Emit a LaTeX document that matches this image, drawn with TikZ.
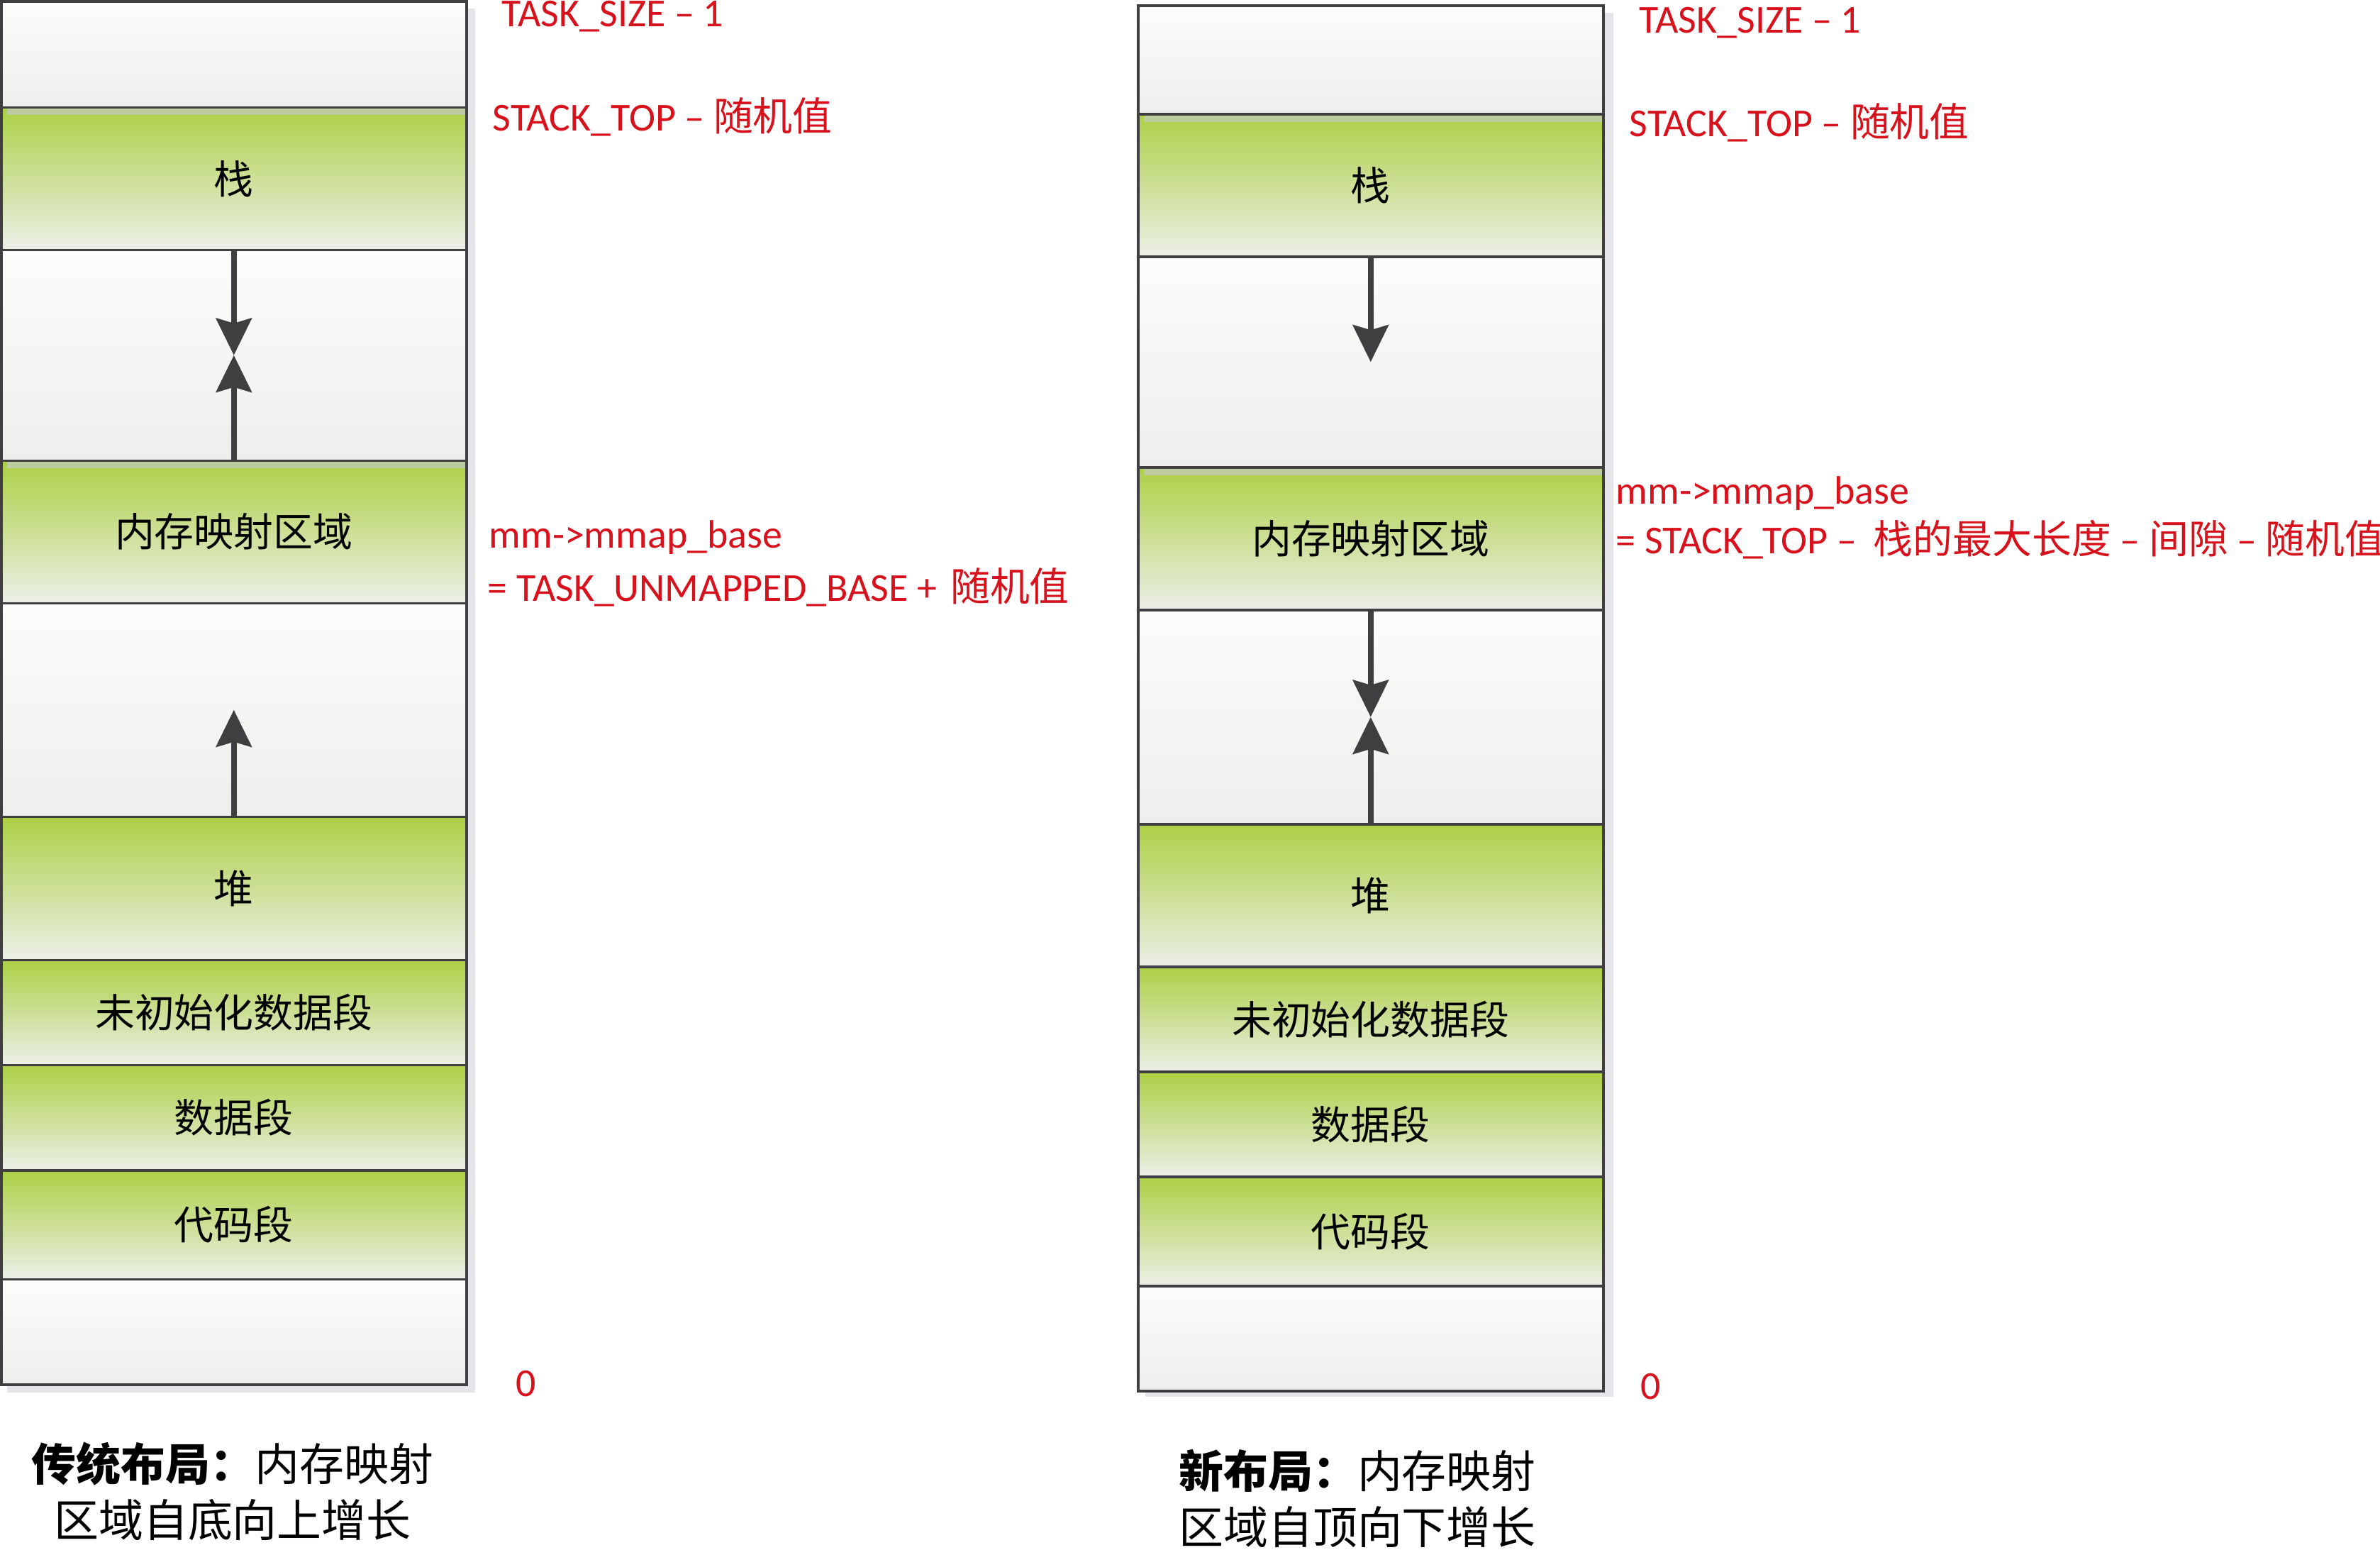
\documentclass[tikz,border=0pt]{standalone}
\usepackage{fontspec}
\setmainfont{Carlito}
\newfontfamily\cjk{Noto Sans CJK SC}
\usetikzlibrary{matrix,arrows.meta}
\definecolor{boxline}{RGB}{64,62,64}
\definecolor{gaptop}{RGB}{252,252,251}
\definecolor{gapbottom}{RGB}{238,238,237}
\definecolor{greentop}{RGB}{172,208,68}
\definecolor{greenbottom}{RGB}{236,239,232}
\definecolor{bandgrey}{RGB}{190,203,160}
\definecolor{boxshadow}{RGB}{229,228,232}
\definecolor{addrred}{RGB}{215,18,28}
\tikzset{
  seg/.style={draw=boxline, line width=1pt, minimum width=6.56cm, inner sep=0pt, outer sep=0pt,
    font=\cjk\fontsize{15.9pt}{19pt}\selectfont},
  gapbox/.style={seg, top color=gaptop, bottom color=gapbottom},
  greenbox/.style={seg, top color=greentop, bottom color=greenbottom},
  layout/.style={matrix of nodes, nodes in empty cells, row sep=-1pt, inner sep=0pt, outer sep=0pt, anchor=north west},
  arr/.style={draw=boxline, line width=2.3pt, -{Stealth[length=0.52cm, width=0.5cm, inset=0.07cm]}},
  addr/.style={text=addrred, anchor=base west, inner sep=0pt, font=\fontsize{15.9pt}{19pt}\selectfont},
  caption/.style={align=center, inner sep=0pt, font=\cjk\fontsize{17.9pt}{22.5pt}\selectfont}
}
\begin{document}
\begin{tikzpicture}[x=1cm,y=-1cm]
  \useasboundingbox (0,0) rectangle (33.56,21.84);
  \fill[boxshadow] (0.10,0.12) rectangle (6.70,19.63);
  \fill[boxshadow] (16.15,0.18) rectangle (22.75,19.69);

  \matrix (L) [layout] at (0,0)
  {
    |[gapbox, minimum height=1.495cm]| \\
    |[greenbox, minimum height=2.01cm]| 栈 \\
    |[gapbox, minimum height=2.97cm]| \\
    |[greenbox, minimum height=2.01cm]| 内存映射区域 \\
    |[gapbox, minimum height=3.01cm]| \\
    |[greenbox, minimum height=2.02cm]| 堆 \\
    |[greenbox, minimum height=1.48cm]| 未初始化数据段 \\
    |[greenbox, minimum height=1.485cm]| 数据段 \\
    |[greenbox, minimum height=1.535cm]| 代码段 \\
    |[gapbox, minimum height=1.485cm]| \\
  };
  \matrix (R) [layout] at (16.03,0.06)
  {
    |[gapbox, minimum height=1.53cm]| \\
    |[greenbox, minimum height=2.01cm]| 栈 \\
    |[gapbox, minimum height=2.97cm]| \\
    |[greenbox, minimum height=2.01cm]| 内存映射区域 \\
    |[gapbox, minimum height=3.02cm]| \\
    |[greenbox, minimum height=2.01cm]| 堆 \\
    |[greenbox, minimum height=1.48cm]| 未初始化数据段 \\
    |[greenbox, minimum height=1.48cm]| 数据段 \\
    |[greenbox, minimum height=1.54cm]| 代码段 \\
    |[gapbox, minimum height=1.48cm]| \\
  };

  \foreach \col in {L,R}
    \foreach \row in {2,4}
      \fill[bandgrey] ([shift={(0.08,0.02)}]\col-\row-1.north west) rectangle ([shift={(-0.02,0.11)}]\col-\row-1.north east);

  \path
    (L-2-1.south) edge[arr] (L-3-1.center)
    (L-4-1.north) edge[arr] (L-3-1.center)
    (L-6-1.north) edge[arr] (L-5-1.center)
    (R-2-1.south) edge[arr] (R-3-1.center)
    (R-4-1.south) edge[arr] (R-5-1.center)
    (R-6-1.north) edge[arr] (R-5-1.center);

  \node[addr] (sizeL) at (7.07,0.37) {TASK\_SIZE – 1};
  \node[addr] (topL) at (6.94,1.84) {STACK\_TOP – {\cjk 随机值}};
  \node[addr] (baseL) at (6.89,7.72) {mm->mmap\_base};
  \node[addr] (eqL) at (6.87,8.47) {= TASK\_UNMAPPED\_BASE + \hspace{0.12em}{\cjk 随机值}};
  \node[addr] (zeroL) at (7.27,19.68) {0};

  \node[addr] (sizeR) at (23.11,0.46) {TASK\_SIZE – 1};
  \node[addr] (topR) at (22.97,1.92) {STACK\_TOP – {\cjk 随机值}};
  \node[addr] (baseR) at (22.78,7.10) {mm->mmap\_base};
  \node[addr] (eqR) at (22.78,7.80) {= STACK\_TOP – \hspace{0.2em}{\cjk 栈的最大长度} – {\cjk 间隙} – {\cjk 随机值}};
  \node[addr] (zeroR) at (23.13,19.72) {0};

  \node[caption] (capL) at (3.28,21.02) {{\bfseries 传统布局：}内存映射\\区域自底向上增长};
  \node[caption] (capR) at (19.14,21.12) {{\bfseries 新布局：}内存映射\\区域自顶向下增长};
\end{tikzpicture}
\end{document}
